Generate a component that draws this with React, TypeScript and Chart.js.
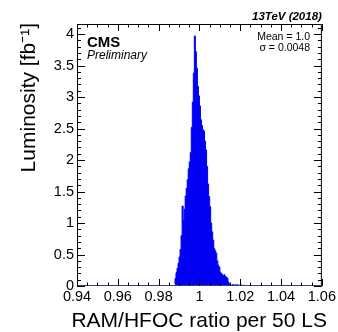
import React, { useEffect, useRef } from "react";
import { Chart, registerables } from "chart.js";

Chart.register(...registerables);

// Histogram: luminosity per RAM/HFOC ratio bin (bin width 0.0005, first bin starts at 0.988)
const BIN_START = 0.988;
const BIN_WIDTH = 0.0005;
const luminosity = [
  0.03, 0.12, 0.21, 0.28, 0.36, 0.46, 0.58, 0.8, 1.27, 1.04,
  1.22, 1.43, 1.55, 1.69, 1.86, 1.97, 2.12, 2.52, 2.92, 3.38,
  3.97, 3.72, 3.46, 3.17, 3.02, 2.86, 2.64, 2.55, 2.48, 2.46,
  2.3, 2.16, 1.9, 1.62, 1.42, 1.26, 1.0, 0.86, 0.73, 0.6,
  0.56, 0.52, 0.4, 0.33, 0.3, 0.22, 0.2, 0.18, 0.16, 0.18,
  0.15, 0.14, 0.12, 0.06, 0.03, 0.02, 0.01, 0.02, 0.02, 0.01,
  0.02, 0.01, 0.02, 0.01, 0.01, 0.02, 0.01, 0.01, 0.01, 0.0,
];
const xTickValues = [0.94, 0.96, 0.98, 1.0, 1.02, 1.04, 1.06];
const yTickValues = [0, 0.5, 1, 1.5, 2, 2.5, 3, 3.5, 4];
const X_MIN = 0.94;
const X_MAX = 1.06;
const Y_MAX = 4.16;
const xTitle = "RAM/HFOC ratio per 50 LS";
const yTitle = "Luminosity [fb⁻¹]";
const energyLabel = "13TeV (2018)";
const cmsLabel = "CMS";
const prelimLabel = "Preliminary";
const statLines = ["Mean = 1.0", "σ = 0.0048"];

const FONT = "'Liberation Sans', Arial, Helvetica, sans-serif";

const rootStyle = {
  id: "rootStyle",
  afterDatasetsDraw(chart: any) {
    const { ctx, chartArea: a, scales } = chart;
    const xs = scales.x;
    const ys = scales.y;
    ctx.save();
    // bottom histogram baseline (blue over black axis)
    ctx.lineWidth = 1;
    ctx.strokeStyle = "#000";
    ctx.beginPath();
    ctx.moveTo(a.left + 0.5, a.top + 0.5);
    ctx.lineTo(a.right - 0.5, a.top + 0.5);
    ctx.lineTo(a.right - 0.5, a.bottom - 0.5);
    ctx.moveTo(a.left + 0.5, a.bottom - 0.5);
    ctx.lineTo(a.left + 0.5, a.top + 0.5);
    ctx.stroke();
    ctx.strokeStyle = "#3c3c8c";
    ctx.beginPath();
    ctx.moveTo(a.left, a.bottom - 0.5);
    ctx.lineTo(a.right, a.bottom - 0.5);
    ctx.stroke();

    // ticks
    ctx.strokeStyle = "#000";
    ctx.beginPath();
    for (let i = 0; i <= 24; i++) {
      const v = X_MIN + i * 0.005;
      const px = Math.round(xs.getPixelForValue(v)) + 0.5;
      const len = i % 4 === 0 ? 7 : 3.5;
      ctx.moveTo(px, a.bottom);
      ctx.lineTo(px, a.bottom - len);
      ctx.moveTo(px, a.top);
      ctx.lineTo(px, a.top + len);
    }
    for (let i = 0; i <= 41; i++) {
      const v = i * 0.1;
      const py = Math.round(ys.getPixelForValue(v)) + 0.5;
      const len = i % 5 === 0 ? 8 : 4;
      ctx.moveTo(a.left, py);
      ctx.lineTo(a.left + len, py);
      ctx.moveTo(a.right, py);
      ctx.lineTo(a.right - len, py);
    }
    ctx.stroke();

    // texts
    ctx.fillStyle = "#000";
    ctx.textBaseline = "alphabetic";
    ctx.textAlign = "right";
    ctx.font = `bold italic 11.5px ${FONT}`;
    ctx.fillText(energyLabel, a.right, 20);

    ctx.textAlign = "left";
    ctx.font = `bold 15px ${FONT}`;
    ctx.fillText(cmsLabel, 87, 47);
    ctx.font = `italic 12px ${FONT}`;
    ctx.fillText(prelimLabel, 87, 59);

    ctx.textAlign = "right";
    ctx.font = `10.5px ${FONT}`;
    ctx.fillText(statLines[0], 310, 40);
    ctx.fillText(statLines[1], 310, 51);

    // axis titles
    ctx.font = `21px ${FONT}`;
    ctx.textAlign = "right";
    ctx.fillText(xTitle, 327, 327);

    ctx.save();
    ctx.translate(35, 23);
    ctx.rotate(-Math.PI / 2);
    ctx.textAlign = "right";
    ctx.fillText(yTitle, 0, 0);
    ctx.restore();

    ctx.restore();
  },
};

export default function App() {
  const canvasRef = useRef<HTMLCanvasElement | null>(null);

  useEffect(() => {
    document.body.style.margin = "0";
    const points: { x: number; y: number }[] = luminosity.map((v, i) => ({
      x: BIN_START + i * BIN_WIDTH,
      y: v,
    }));
    points.push({ x: BIN_START + luminosity.length * BIN_WIDTH, y: 0 });

    const chart = new Chart(canvasRef.current as HTMLCanvasElement, {
      type: "line",
      data: {
        datasets: [
          {
            data: points,
            stepped: "after",
            fill: "origin",
            backgroundColor: "#0000f5",
            borderColor: "#0000f5",
            borderWidth: 1,
            pointRadius: 0,
          },
        ],
      },
      options: {
        animation: false,
        responsive: false,
        maintainAspectRatio: false,
        layout: { padding: { top: 24, right: 13, left: 0, bottom: 0 } },
        plugins: { legend: { display: false }, tooltip: { enabled: false } },
        scales: {
          x: {
            type: "linear",
            min: X_MIN,
            max: X_MAX,
            grid: { display: false, drawTicks: false },
            border: { display: false },
            afterBuildTicks: (s: any) => {
              s.ticks = xTickValues.map((v) => ({ value: v }));
            },
            afterFit: (s: any) => {
              s.height = 46;
            },
            ticks: {
              padding: 2,
              maxRotation: 0,
              autoSkip: false,
              color: "#000",
              font: { family: FONT, size: 14.5 },
              callback: (v: any) => String(+Number(v).toFixed(2)),
            },
          },
          y: {
            type: "linear",
            min: 0,
            max: Y_MAX,
            grid: { display: false, drawTicks: false },
            border: { display: false },
            afterBuildTicks: (s: any) => {
              s.ticks = yTickValues.map((v) => ({ value: v }));
            },
            afterFit: (s: any) => {
              s.width = 77;
            },
            ticks: {
              padding: 3,
              autoSkip: false,
              color: "#000",
              font: { family: FONT, size: 14.5 },
              callback: (v: any) => String(+Number(v).toFixed(1)),
            },
          },
        },
      },
      plugins: [rootStyle],
    } as any);
    return () => chart.destroy();
  }, []);

  return (
    <div style={{ position: "relative", width: 338, height: 332, background: "#fff" }}>
      <canvas ref={canvasRef} width={338} height={332} style={{ width: 338, height: 332 }} />
    </div>
  );
}
